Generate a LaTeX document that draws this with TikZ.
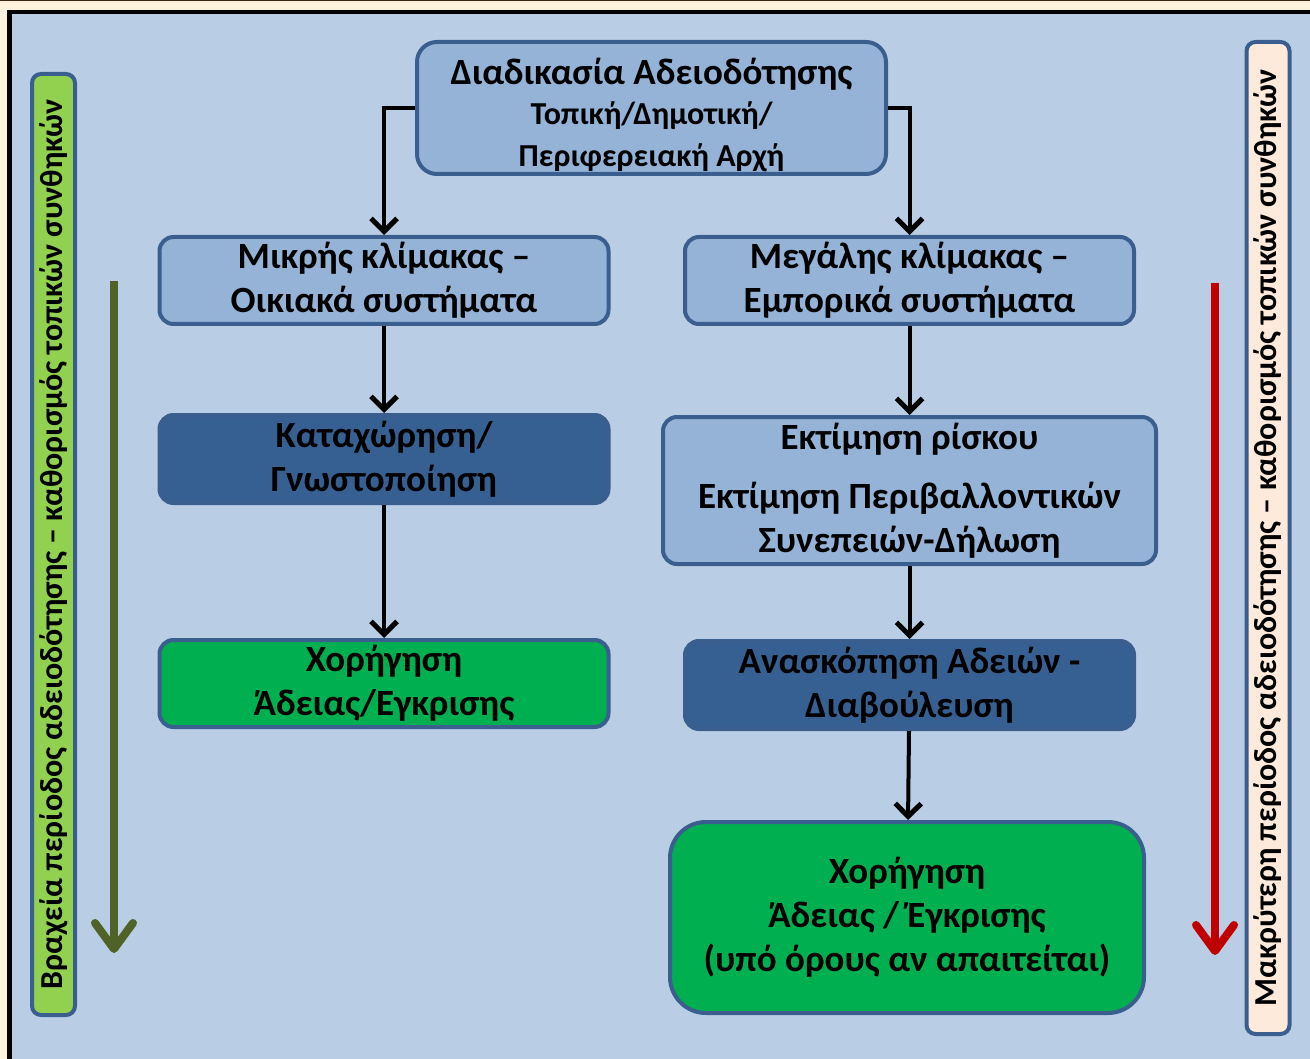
\documentclass[tikz,border=0pt]{standalone}
\usepackage{fontspec}
\setmainfont{Carlito}
\usetikzlibrary{arrows.meta,positioning}
\definecolor{paper}{HTML}{FEF2DC}
\definecolor{panel}{HTML}{B9CDE5}
\definecolor{boxline}{HTML}{3A5F8E}
\definecolor{boxlight}{HTML}{95B3D7}
\definecolor{boxdark}{HTML}{376092}
\definecolor{grant}{HTML}{00B050}
\definecolor{shortbar}{HTML}{92D050}
\definecolor{longbar}{HTML}{FDEADA}
\definecolor{shortarrow}{HTML}{4F6228}
\definecolor{longarrow}{HTML}{C00000}
\tikzset{%
  >={Straight Barb[length=13pt,width=26pt,line width=5pt]},
  % Specifications for style of nodes:
       base/.style = {rectangle, rounded corners=14pt, draw=boxline,
                      line width=4pt, align=center, inner sep=0pt,
                      font=\bfseries\fontsize{37}{44}\selectfont},
      stage/.style = {base, fill=boxlight, minimum width=449pt, minimum height=87pt},
   darkstage/.style = {base, fill=boxdark, minimum width=449pt, minimum height=88pt},
  grantstage/.style = {base, fill=grant, minimum width=449pt, minimum height=87pt},
     sidebar/.style = {base, rounded corners=9pt, rotate=90, minimum height=43pt,
                      font=\bfseries\fontsize{32}{36}\selectfont},
        flow/.style = {->, line width=4pt},
      period/.style = {line width=8pt, -{Straight Barb[length=26pt,width=38pt,round]}},
}

\begin{document}
\begin{tikzpicture}[x=1pt, y=-1pt]
\useasboundingbox (0,0) rectangle (1310,1059);

% frame
\fill[paper] (0,0) rectangle (1310,1059);
\draw[line width=1.5pt, black!70!brown] (0,0.75) -- (1310,0.75);
\fill[black] (7,10) rectangle (1320,1070);
\fill[panel] (12,14) rectangle (1320,1070);

% side bars
\node (shortside) [sidebar, fill=shortbar, minimum width=941pt] at (53.5,544.5)
  {Βραχεία περίοδος αδειοδότησης – καθορισμός τοπικών συνθηκών};
\node (longside) [sidebar, fill=longbar, minimum width=992pt] at (1268,538)
  {Μακρύτερη περίοδος αδειοδότησης – καθορισμός τοπικών συνθηκών};

\coordinate (shortstart) at (114,281);
\coordinate (shortend)   at (114,953);
\coordinate (longstart)  at (1215,283);
\coordinate (longend)    at (1215,955);
\draw[period, shortarrow] (shortstart) -- (shortend);
\draw[period, longarrow]  (longstart) -- (longend);

% process
\node (authority) [base, fill=boxlight, minimum width=469pt, minimum height=132pt,
                   rounded corners=20pt] at (651.5,108)
  {\rule{0pt}{40pt}Διαδικασία Αδειοδότησης\\[-4pt]
   {\fontsize{32}{39}\selectfont Τοπική/Δημοτική/}\\[-2pt]
   {\fontsize{32}{39}\selectfont Περιφερειακή Αρχή}};

\node (small)  [stage] at (384,280.5) {Μικρής κλίμακας –\\Οικιακά συστήματα};
\node (large)  [stage] at (909.5,280.5) {Μεγάλης κλίμακας –\\Εμπορικά συστήματα};

\node (notify) [darkstage, below=87pt of small] {Καταχώρηση/\\Γνωστοποίηση};
\node (grantsmall) [grantstage, below=133pt of notify] {Χορήγηση\\Άδειας/Εγκρισης};

\node (risk)   [stage, minimum width=493pt, minimum height=147pt, below=89pt of large]
  {Εκτίμηση ρίσκου\\[15pt]Εκτίμηση Περιβαλλοντικών\\Συνεπειών-Δήλωση};
\node (review) [darkstage, below=73pt of risk] {Ανασκόπηση Αδειών -\\Διαβούλευση};
\node (grantlarge) [grantstage, minimum width=474pt, minimum height=191pt,
                    rounded corners=36pt, below=89pt of review, xshift=-2.5pt]
  {Χορήγηση\\Άδειας / Έγκρισης\\(υπό όρους αν απαιτείται)};

\draw[flow] (authority.west) -| (small);
\draw[flow] (authority.east) -| (large);
\draw[flow] (small)  -- (notify);
\draw[flow] (notify) -- (grantsmall);
\draw[flow] (large)  -- (risk);
\draw[flow] (risk)   -- (review);
\draw[flow] (review) -- (grantlarge);
\end{tikzpicture}
\end{document}
